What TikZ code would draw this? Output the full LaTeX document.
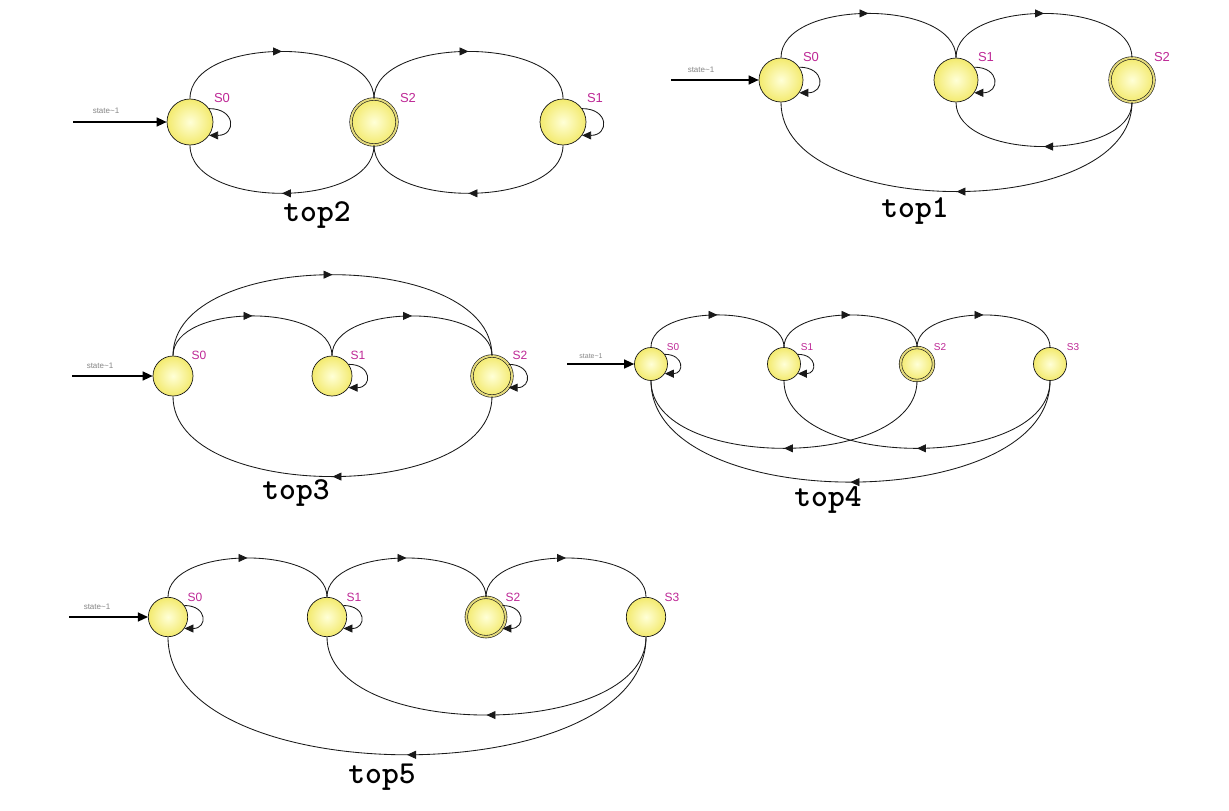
\documentclass[tikz,border=0pt]{standalone}
\usepackage{fontspec}
\setmainfont{Liberation Sans}
\usetikzlibrary{arrows.meta,decorations.markings,calc}
\definecolor{stfill}{RGB}{243,234,110}
\definecolor{stin}{RGB}{255,255,215}
\definecolor{stlab}{RGB}{190,40,150}
\definecolor{edgec}{RGB}{25,25,25}
\definecolor{ringc}{RGB}{228,218,125}
\definecolor{inlab}{RGB}{135,135,135}
\tikzset{
  st/.style={circle, draw=edgec, line width=0.7pt, inner sep=0pt, shading=radial,
    inner color=stin, outer color=stfill, minimum size=#1},
  acc/.style={double=ringc, double distance=2pt, line width=0.6pt},
  tr/.style={draw=edgec, line width=0.85pt,
    decoration={markings, mark=at position 0.5 with {\arrow{Triangle[length=9pt,width=8pt]}}},
    postaction={decorate}},
  loopst/.style={draw=edgec, line width=0.85pt, -{Triangle[length=9pt,width=8pt]}},
  inarr/.style={draw=black, line width=1.4pt, -{Triangle[length=10pt,width=9pt]}},
  slab/.style={text=stlab, inner sep=0pt, font=\fontsize{#1}{#1}\selectfont},
  ilab/.style={text=inlab, inner sep=0pt, font=\fontsize{8}{8}\selectfont},
  ttl/.style={inner sep=0pt, font=\ttfamily\bfseries\fontsize{32}{32}\selectfont}
}
\newcommand\uparc[3]{\draw[tr] (#1.north) .. controls ($(#1.north)+(0,#3)$) and ($(#2.north)+(0,#3)$) .. (#2.north);}
\newcommand\downarc[3]{\draw[tr] (#1.south) .. controls ($(#1.south)+(0,-#3)$) and ($(#2.south)+(0,-#3)$) .. (#2.south);}
\newcommand\selfloop[1]{\draw[loopst] (#1.35) to[out=0,in=0,looseness=2.6] (#1.-35);}
\begin{document}
\begin{tikzpicture}[x=1pt,y=1pt]
\fill[white] (0,-811) rectangle (1229,0);
\useasboundingbox (0,-811) rectangle (1229,0);

% ---------- top2 ----------
\node[st=46] (a0) at (190,-122) {};
\node[st=46,acc] (a2) at (374,-122) {};
\node[st=46] (a1) at (563,-122) {};
\node[slab=13] (la0) at (222,-98) {S0};
\node[slab=13] (la2) at (408,-98) {S2};
\node[slab=13] (la1) at (595,-98) {S1};
\coordinate (ia) at (73,-122);
\node[ilab] (ila) at (106,-111) {state\textasciitilde 1};
\draw[inarr] (ia) -- (a0);
\uparc{a0}{a2}{63}
\uparc{a2}{a1}{63}
\downarc{a1}{a2}{64}
\downarc{a2}{a0}{64}
\selfloop{a0}
\selfloop{a1}
\node[ttl] (ta) at (317,-215) {top2};

% ---------- top1 ----------
\node[st=44] (b0) at (781,-80) {};
\node[st=44] (b1) at (956,-80) {};
\node[st=44,acc] (b2) at (1132,-80) {};
\node[slab=13] (lb0) at (811,-57) {S0};
\node[slab=13] (lb1) at (986,-57) {S1};
\node[slab=13] (lb2) at (1162,-57) {S2};
\coordinate (ib) at (671,-80);
\node[ilab] (ilb) at (701,-70) {state\textasciitilde 1};
\draw[inarr] (ib) -- (b0);
\uparc{b0}{b1}{59}
\uparc{b1}{b2}{59}
\downarc{b2}{b1}{59}
\downarc{b2}{b0}{119}
\selfloop{b0}
\selfloop{b1}
\node[ttl] (tb) at (915,-211) {top1};

% ---------- top3 ----------
\node[st=40] (c0) at (173,-376) {};
\node[st=40] (c1) at (332,-376) {};
\node[st=40,acc] (c2) at (492,-376) {};
\node[slab=12] (lc0) at (199,-355) {S0};
\node[slab=12] (lc1) at (358,-355) {S1};
\node[slab=12] (lc2) at (520,-355) {S2};
\coordinate (ic) at (72,-376);
\node[ilab] (ilc) at (100,-366) {state\textasciitilde 1};
\draw[inarr] (ic) -- (c0);
\uparc{c0}{c1}{53}
\uparc{c1}{c2}{53}
\uparc{c0}{c2}{108}
\downarc{c2}{c0}{107}
\selfloop{c1}
\selfloop{c2}
\node[ttl] (tc) at (296,-493) {top3};

% ---------- top4 ----------
\node[st=33] (d0) at (651,-364) {};
\node[st=33] (d1) at (784,-364) {};
\node[st=33,acc] (d2) at (917,-364) {};
\node[st=33] (d3) at (1050,-364) {};
\node[slab=10] (ld0) at (673,-347) {S0};
\node[slab=10] (ld1) at (807,-347) {S1};
\node[slab=10] (ld2) at (940,-347) {S2};
\node[slab=10] (ld3) at (1073,-347) {S3};
\coordinate (id) at (567,-364);
\node[ilab,font=\fontsize{7}{7}\selectfont] (ild) at (591,-356) {state\textasciitilde 1};
\draw[inarr] (id) -- (d0);
\uparc{d0}{d1}{43}
\uparc{d1}{d2}{43}
\uparc{d2}{d3}{43}
\downarc{d2}{d0}{90}
\downarc{d3}{d1}{90}
\downarc{d3}{d0}{135}
\selfloop{d0}
\selfloop{d1}
\node[ttl] (td) at (828,-500) {top4};

% ---------- top5 ----------
\node[st=39.4] (e0) at (168,-617) {};
\node[st=39.4] (e1) at (327,-617) {};
\node[st=39.4,acc] (e2) at (486,-617) {};
\node[st=39.4] (e3) at (646,-617) {};
\node[slab=12] (le0) at (195,-597) {S0};
\node[slab=12] (le1) at (354,-597) {S1};
\node[slab=12] (le2) at (513,-597) {S2};
\node[slab=12] (le3) at (672,-597) {S3};
\coordinate (ie) at (69,-617);
\node[ilab] (ile) at (97,-607) {state\textasciitilde 1};
\draw[inarr] (ie) -- (e0);
\uparc{e0}{e1}{52}
\uparc{e1}{e2}{52}
\uparc{e2}{e3}{52}
\downarc{e3}{e1}{104}
\downarc{e3}{e0}{157}
\selfloop{e0}
\selfloop{e1}
\selfloop{e2}
\node[ttl] (te) at (382,-777) {top5};
\end{tikzpicture}
\end{document}
